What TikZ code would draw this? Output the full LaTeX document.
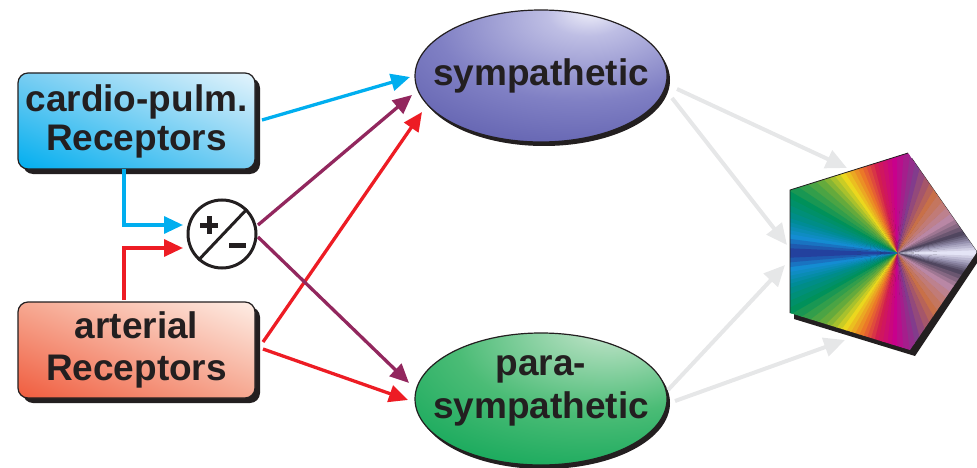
\documentclass[tikz,border=0pt]{standalone}
\usepackage{fontspec}
\setmainfont{Liberation Sans}
\usetikzlibrary{arrows.meta,shapes.geometric,shadows,shadings}
\definecolor{txt}{RGB}{35,31,32}
\definecolor{cpblue}{RGB}{0,174,239}
\definecolor{cpmid}{RGB}{120,205,242}
\definecolor{cplight}{RGB}{228,244,252}
\definecolor{arsat}{RGB}{240,92,62}
\definecolor{armid}{RGB}{246,168,145}
\definecolor{arlight}{RGB}{254,238,230}
\definecolor{artred}{RGB}{237,28,36}
\definecolor{plum}{RGB}{146,39,94}
\definecolor{arrgray}{RGB}{230,231,232}
% sympathetic
\definecolor{s0}{RGB}{240,240,250}
\definecolor{s1}{RGB}{190,190,228}
\definecolor{s2}{RGB}{128,128,196}
\definecolor{s3}{RGB}{92,92,172}
\definecolor{s4}{RGB}{56,56,150}
\definecolor{s5}{RGB}{40,42,138}
% parasympathetic
\definecolor{g0}{RGB}{232,246,236}
\definecolor{g1}{RGB}{170,220,185}
\definecolor{g2}{RGB}{75,188,118}
\definecolor{g3}{RGB}{20,168,90}
\definecolor{g4}{RGB}{0,160,78}
% conic stops
\definecolor{k0}{RGB}{228,228,246}
\definecolor{k1}{RGB}{150,145,175}
\definecolor{k2}{RGB}{80,70,95}
\definecolor{k3}{RGB}{185,135,165}
\definecolor{k4}{RGB}{200,112,72}
\definecolor{k5}{RGB}{130,60,140}
\definecolor{k6}{RGB}{200,0,140}
\definecolor{k7}{RGB}{210,30,80}
\definecolor{k8}{RGB}{235,120,40}
\definecolor{k9}{RGB}{235,215,30}
\definecolor{k10}{RGB}{100,170,60}
\definecolor{k11}{RGB}{0,145,90}
\definecolor{k12}{RGB}{0,140,150}
\definecolor{k13}{RGB}{20,140,210}
\definecolor{k14}{RGB}{40,40,140}
\pgfdeclareradialshading{symsh}{\pgfpoint{10bp}{25bp}}{color(0bp)=(s0); color(8bp)=(s1); color(28bp)=(s2); color(48bp)=(s3); color(62bp)=(s4); color(75bp)=(s5); color(110bp)=(s5)}
\pgfdeclareradialshading{parsh}{\pgfpoint{15bp}{30bp}}{color(0bp)=(g0); color(8bp)=(g1); color(28bp)=(g2); color(48bp)=(g3); color(65bp)=(g4); color(110bp)=(g4)}
\tikzset{
  recbox/.style={rectangle, rounded corners=10pt, minimum width=237pt, minimum height=96pt,
    draw=txt, line width=1.2pt, inner sep=0pt, align=center, text=txt,
    general shadow={fill=txt, shadow xshift=5pt, shadow yshift=-5pt}},
  ell/.style={ellipse, minimum width=252pt, minimum height=132pt, inner sep=0pt,
    draw=txt, line width=1.2pt, shade,
    general shadow={fill=txt, shadow xshift=3pt, shadow yshift=-4pt}},
  lbl/.style={text=txt, inner sep=0pt, align=center},
  carr/.style={line width=3.3pt, -{Triangle[length=19pt,width=17pt]}},
  garr/.style={line width=4pt, draw=arrgray, -{Triangle[length=21pt,width=19pt]}}
}
\begin{document}
\begin{tikzpicture}[x=1pt,y=-1pt,font=\fontsize{37}{40}\selectfont\bfseries]
\useasboundingbox (0,0) rectangle (977,468);

% receptor boxes
\node[recbox, shade, lower left=cpblue, upper left=cpmid, lower right=cpmid, upper right=cplight,
  font=\fontsize{37}{39}\selectfont\bfseries] (cp) at (136.5,121) {cardio-pulm.\\Receptors};
\node[recbox, shade, lower left=arsat, upper left=armid, lower right=armid, upper right=arlight,
  font=\fontsize{37}{42}\selectfont\bfseries] (ar) at (136.5,350) {arterial\\Receptors};

% comparator
\node[circle, draw=txt, line width=3pt, fill=white, minimum size=68pt, inner sep=0pt] (pm) at (222,234) {};
\draw[txt, line width=3pt] (pm.228) -- (pm.45);
\draw[txt, line width=5pt] (200,225) -- (218,225) (209,216) -- (209,234);
\draw[txt, line width=5pt] (229,245) -- (246,245);

% autonomic ellipses
\node[ell, shading=symsh, label={[lbl,name=symtxt]center:sympathetic}] (sym) at (541,76) {};
\node[ell, shading=parsh, label={[lbl,name=partxt,font=\fontsize{37}{43}\selectfont\bfseries]center:para-\\sympathetic\rule[-24pt]{0pt}{0pt}}] (par) at (541,399) {};

% pentagon (effector) with conic colour sweep
\coordinate (pA) at (790,190);
\coordinate (pB) at (908,153);
\coordinate (pC) at (977,252);
\coordinate (pD) at (910,350);
\coordinate (pE) at (790,313);
\coordinate (pc) at (897,253);
\fill[txt] (794,195) -- (912,158) -- (981,257) -- (915,356) -- (794,319) -- cycle;
\begin{scope}
\clip (pA) -- (pB) -- (pC) -- (pD) -- (pE) -- cycle;
\foreach \aa/\ca/\ab/\cb in {0/k0/8/k1, 8/k1/15/k2, 15/k2/30/k3, 30/k3/55/k4, 55/k4/75/k5,
  75/k5/90/k6, 90/k6/102/k7, 102/k7/112/k8, 112/k8/123/k9, 123/k9/135/k10, 135/k10/150/k11,
  150/k11/162/k12, 162/k12/170/k13, 170/k13/180/k14}{
  \foreach \i in {0,1,2,3}{
    \pgfmathtruncatemacro\p{100-25*\i}
    \pgfmathsetmacro\s{\aa+(\ab-\aa)*\i/4}
    \pgfmathsetmacro\e{\aa+(\ab-\aa)*(\i+1)/4+0.5}
    \fill[\ca!\p!\cb] (pc) -- ([shift={(\s:170pt)}]pc) -- ([shift={(\e:170pt)}]pc) -- cycle;
    \fill[\ca!\p!\cb] (pc) -- ([shift={(-\s:170pt)}]pc) -- ([shift={(-\e:170pt)}]pc) -- cycle;
  }
}
\end{scope}
\draw[txt, line width=0.8pt] (pE) -- (pA) -- (pB);

% endpoints of connectors
\coordinate (cpS) at (124,169);
\coordinate (arN) at (124,300);
\coordinate (pmW1) at (183,225);
\coordinate (pmW2) at (183,248);
\coordinate (cpE) at (262,120);
\coordinate (arE1) at (263,342);
\coordinate (arE2) at (263,349);
\coordinate (pmE1) at (258,225);
\coordinate (pmE2) at (258,237);
\coordinate (symW1) at (410,77);
\coordinate (symW2) at (412,95);
\coordinate (symW3) at (422,112);
\coordinate (parW1) at (409,383);
\coordinate (parW2) at (408,400);
\coordinate (symE1) at (677,89);
\coordinate (symE2) at (672,98);
\coordinate (parE1) at (668,390);
\coordinate (parE2) at (675,401);
\coordinate (pent1) at (847,168);
\coordinate (pent2) at (787,245);
\coordinate (pent3) at (785,265);
\coordinate (pent4) at (845,340);

% coloured connectors
\draw[carr, draw=cpblue] (cpS) |- (pmW1);
\draw[carr, draw=artred] (arN) |- (pmW2);
\draw[carr, draw=cpblue] (cpE) -- (symW1);
\draw[carr, draw=artred] (arE1) -- (symW3);
\draw[carr, draw=plum] (pmE1) -- (symW2);
\draw[carr, draw=plum] (pmE2) -- (parW1);
\draw[carr, draw=artred] (arE2) -- (parW2);

% grey connectors to effector
\draw[garr] (symE1) -- (pent1);
\draw[garr] (symE2) -- (pent2);
\draw[garr] (parE1) -- (pent3);
\draw[garr] (parE2) -- (pent4);
\end{tikzpicture}
\end{document}
